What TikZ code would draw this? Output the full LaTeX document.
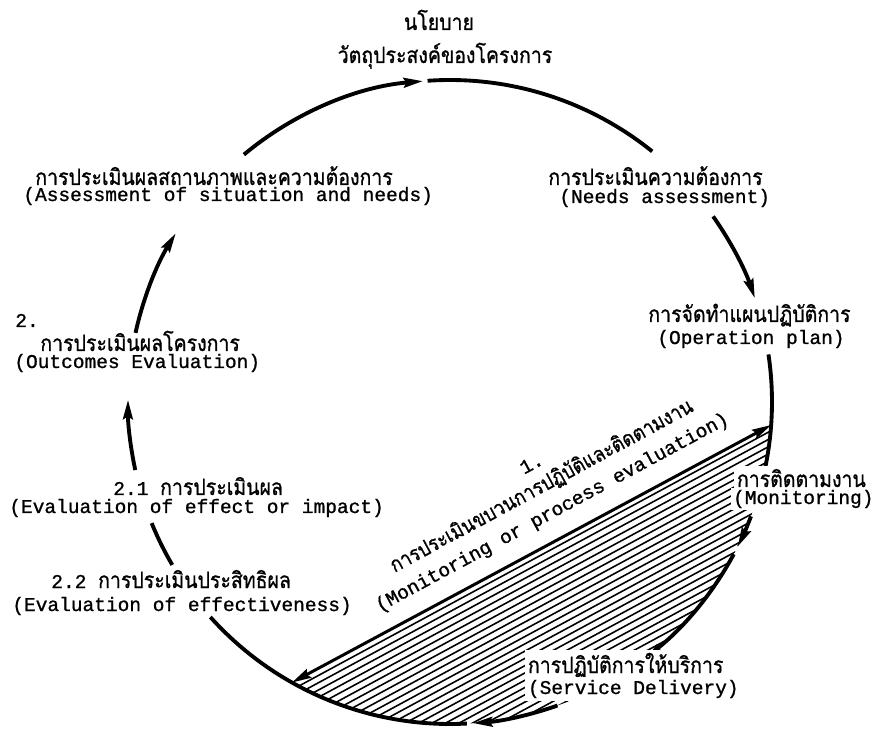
\documentclass[tikz,border=0pt]{standalone}
\usepackage{fontspec}
\setmonofont[FakeBold=1]{Liberation Mono}
\newfontfamily\thaifont[Script=Thai,FakeBold=1]{Loma}
\newcommand{\thai}[1]{\scalebox{1}[1.15]{\thaifont #1}}
\usetikzlibrary{arrows.meta,calc}
\begin{document}
\begin{tikzpicture}[x=0.02cm, y=-0.02cm,
    font=\ttfamily\fontsize{11.1}{13}\selectfont,
    ring/.style={line width=2.2pt},
    tip/.style={-{Stealth[length=11pt,width=5.5pt,inset=1.5pt]}},
    tipsm/.style={-{Stealth[length=7pt,width=4pt,inset=1pt]}},
    plain/.style={},
    lbl/.style={inner sep=0pt, anchor=base west},
    rot/.style={inner sep=0pt, anchor=base, rotate=28.4}]
    \useasboundingbox (0,0) rectangle (876,729);
    \coordinate (C) at (450,402);
    \coordinate (chA) at ($(C)+(4.1:322)$);
    \coordinate (chB) at ($(C)+(119.4:322)$);
    \begin{scope}
        \clip (chB) arc[start angle=119.4, end angle=4.1, radius=322] -- cycle;
        \begin{scope}[shift={(chB)}, rotate=28.4]
            \foreach \k in {1,...,24}
            \draw[line width=0.9pt] (-60,{\k*6.4}) -- (650,{\k*6.4});
        \end{scope}
    \end{scope}
    \foreach \a/\b/\s in {230.2/265.2/tip, 266/308.9/plain, 324.8/341.2/tip,
        351.5/371.6/plain, 20.8/26.7/tip, 28.2/51.8/tipsm, 70.5/85.9/tip,
        87/138.1/plain, 149.6/157.9/plain, 167.8/180.4/tip, 192.4/211.6/tip}
    \draw[ring, \s] ($(C)+(\a:322)$) arc[start angle=\a, end angle=\b, radius=322];
    \draw[line width=1.7pt, {Stealth[length=11pt,width=5.5pt,inset=1.5pt]}-{Stealth[length=11pt,width=5.5pt,inset=1.5pt]}] (chB) -- (chA);
    \node[inner sep=0pt, anchor=base] (policy) at (439,30) {\thai{นโยบาย}};
    \node[inner sep=0pt, anchor=base] (objective) at (445,63) {\thai{วัตถุประสงค์ของโครงการ}};
    \node[lbl] (assessth) at (35,185) {\thai{การประเมินผลสถานภาพและความต้องการ}};
    \node[lbl] (assessen) at (23,201) {(Assessment of situation and needs)};
    \node[lbl] (needsth) at (548,185) {\thai{การประเมินความต้องการ}};
    \node[lbl] (needsen) at (559,203) {(Needs assessment)};
    \node[lbl] (planth) at (648,322) {\thai{การจัดทำแผนปฏิบัติการ}};
    \node[lbl] (planen) at (657,344) {(Operation plan)};
    \node[lbl] (outnum) at (15,327) {2.};
    \node[lbl] (outth) at (40,351) {\thai{การประเมินผลโครงการ}};
    \node[lbl] (outen) at (14,368) {(Outcomes Evaluation)};
    \node[lbl] (effth) at (113,495) {2.1 \thai{การประเมินผล}};
    \node[lbl] (effen) at (9,513) {(Evaluation of effect or impact)};
    \node[lbl] (effcth) at (51,588) {2.2 \thai{การประเมินประสิทธิผล}};
    \node[lbl] (effcen) at (12,611) {(Evaluation of effectiveness)};
    \node[lbl, fill=white, inner sep=1.5pt] (month) at (734,487) {\thai{การติดตามงาน}};
    \node[lbl, fill=white, inner sep=1pt] (monen) at (731,504) {(Monitoring)};
    \node[lbl, fill=white, inner sep=1.5pt] (servth) at (525,673) {\thai{การปฏิบัติการให้บริการ}};
    \node[lbl, fill=white, inner sep=1.5pt] (serven) at (525,694) {(Service Delivery)};
    \node[rot] (procnum) at (534.4,469.1) {1.};
    \node[rot, font=\fontsize{10.4}{12}\selectfont] (procth) at (544.6,491.8) {\thai{การประเมินขบวนการปฏิบัติและติดตามงาน}};
    \node[rot] (procen) at (554.8,517.4) {(Monitoring or process evaluation)};
\end{tikzpicture}
\end{document}
